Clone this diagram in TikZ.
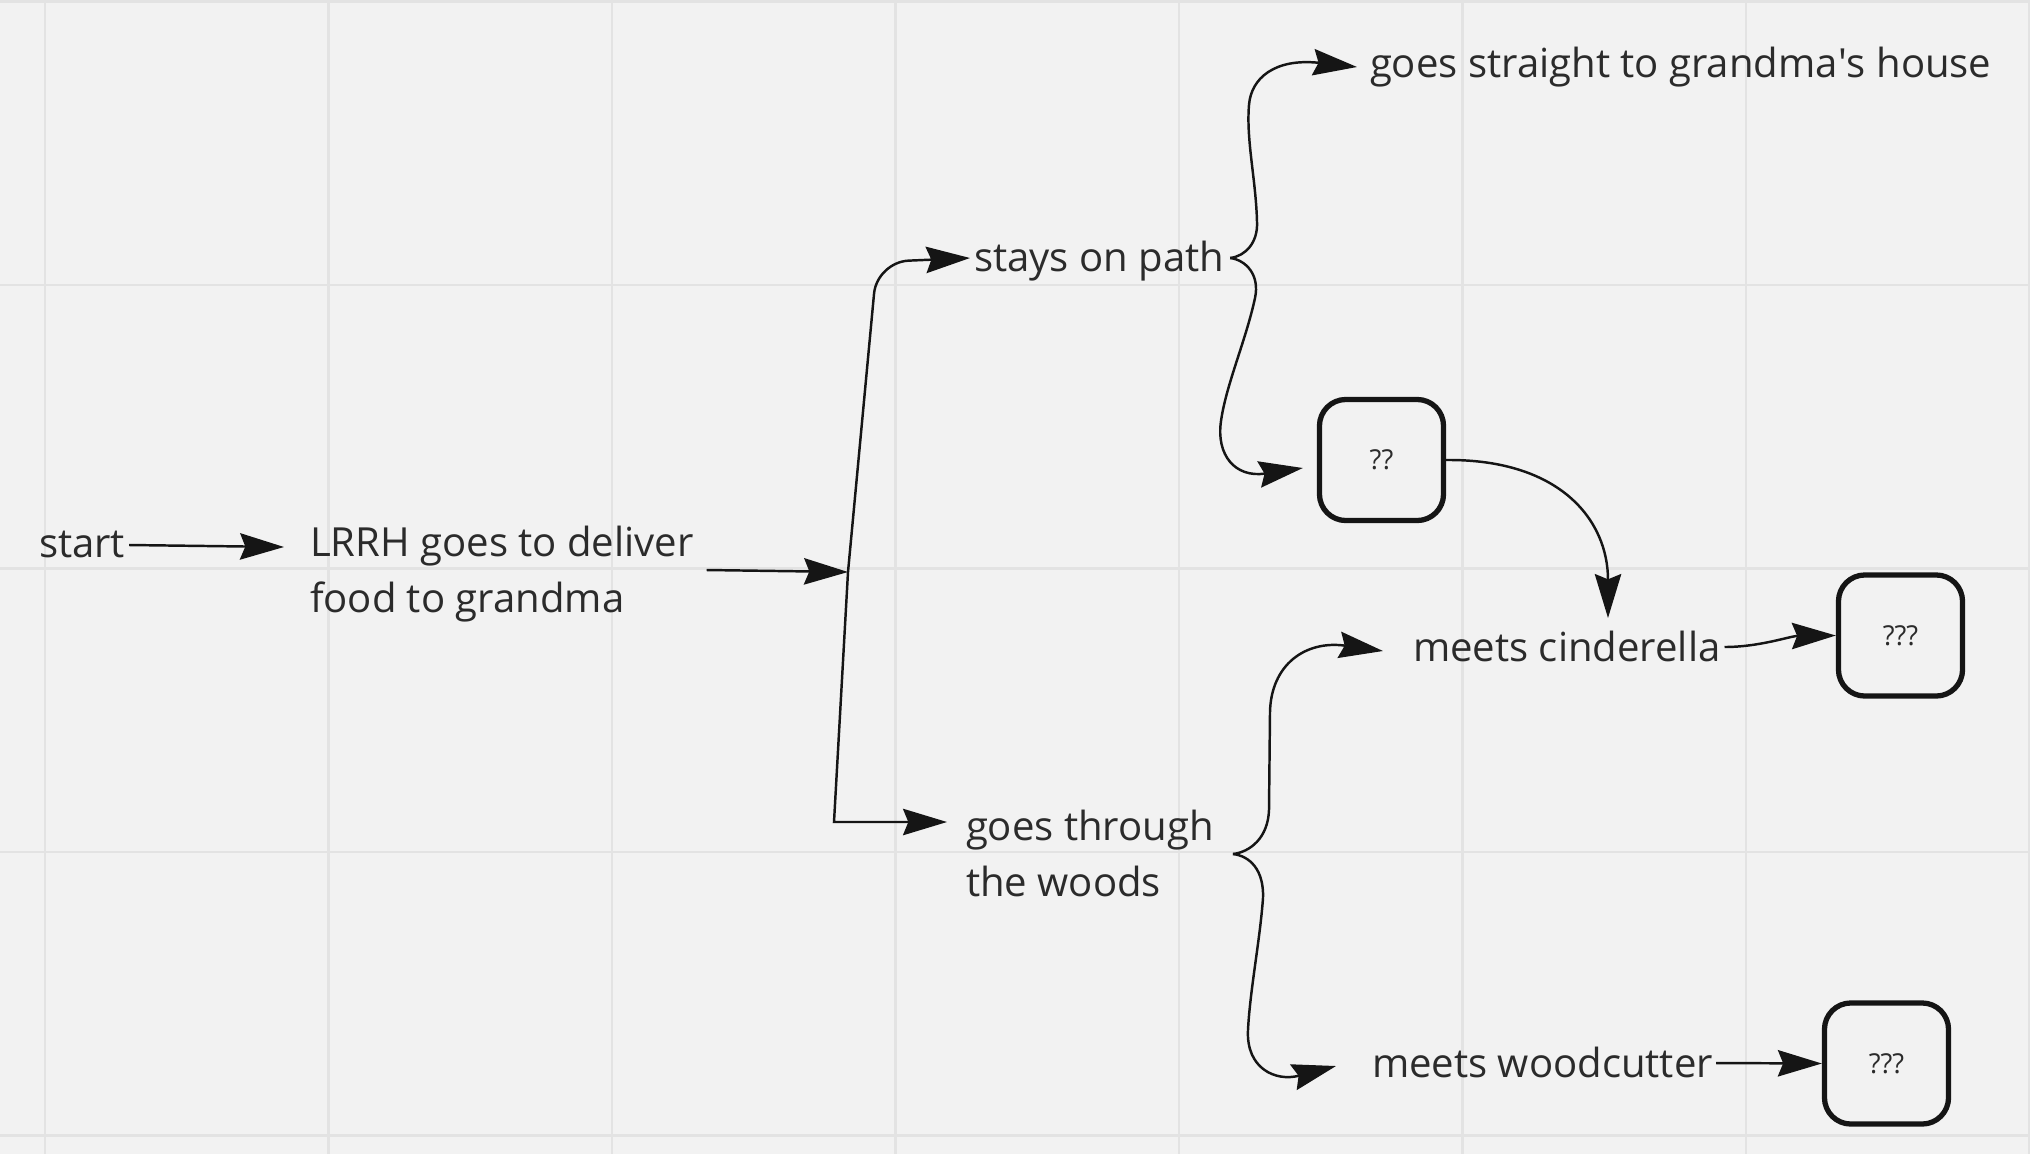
\documentclass[tikz,border=0pt]{standalone}
\usepackage{fontspec}
\setmainfont{Open Sans}
\usetikzlibrary{arrows.meta,calc}
\definecolor{bg}{HTML}{F2F2F2}
\definecolor{gridc}{HTML}{E3E3E3}
\definecolor{ink}{HTML}{2B2B2B}
\definecolor{wire}{HTML}{151515}
\begin{document}
\begin{tikzpicture}[x=0.01cm,y=-0.01cm,
  lbl/.style={inner sep=0pt, outer sep=0pt, anchor=base west, text=ink, font=\fontsize{11.4}{15.7}\selectfont},
  qbox/.style={draw=wire, line width=1.5pt, rounded corners=7.5pt, minimum width=1.24cm, minimum height=1.21cm, inner sep=0pt, text=ink, font=\fontsize{7.8}{9}\selectfont},
  arr/.style={draw=wire, line width=0.7pt, -{Stealth[length=12.5pt,width=7.5pt,inset=1.5pt]}},
  gridline/.style={draw=gridc, line width=0.6pt}
]
\fill[bg] (0,0) rectangle (2030,1154);
\useasboundingbox (0,0) rectangle (2030,1154);
\foreach \gx in {45,328.5,612,895.5,1179,1462.5,1746,2029.5} \draw[gridline] (\gx,0) -- (\gx,1154);
\foreach \gy in {1.5,285,568.5,852,1135.5} \draw[gridline] (0,\gy) -- (2030,\gy);

\node[lbl] (start) at (39,557) {start};
\node[lbl, align=left] (lrrh) at (310,612) {LRRH goes to deliver\\food to grandma};
\node[lbl] (stays) at (974,271) {stays on path};
\node[lbl] (straight) at (1370,77) {goes straight to grandma\textquotesingle s house};
\node[lbl, align=left] (woods) at (966,896) {goes through\\the woods};
\node[lbl] (cind) at (1413,661) {meets cinderella};
\node[lbl] (wood) at (1372,1077) {meets woodcutter};
\node[qbox] (b1) at (1381.5,460) {??};
\node[qbox] (b2) at (1900.5,635.5) {???};
\node[qbox] (b3) at (1886.5,1063.5) {???};

\coordinate (J) at (848,572);
\coordinate (Jb) at (834,822);

\draw[arr] ($(start.base east)+(4,-12)$) -- ($(lrrh.base west)+(-26,-65)$);
\draw[arr] ($(lrrh.base east)+(13,-42)$) -- (J);
\draw[arr, rounded corners=9pt] (J) -- (877,262) -- ($(stays.base west)+(-4,-13)$);
\draw[arr] (J) -- (Jb) -- ($(woods.base west)+(-19,-74)$);

\draw[arr] ($(stays.base east)+(6,-13)$) .. controls (1246,256) and (1258,242) .. (1257,222) .. controls (1256,180) and (1246,140) .. (1249,105) .. controls (1251,78) and (1275,58) .. ($(straight.base west)+(-13,-10)$);
\draw[arr] ($(stays.base east)+(6,-13)$) .. controls (1246,260) and (1260,275) .. (1255,298) .. controls (1246,340) and (1226,385) .. (1221,421) .. controls (1216,455) and (1235,478) .. ($(b1.west)+(-14,8)$);

\draw[arr] (b1.east) .. controls (1560,459) and (1608,520) .. ($(cind.base west)+(195,-43)$);
\draw[arr] ($(cind.base east)+(4,-14)$) .. controls (1760,647) and (1790,636) .. (b2.west);

\draw[arr] ($(woods.base east)+(19,-42)$) .. controls (1250,852) and (1268,838) .. (1269,810) -- (1270,712) .. controls (1271,665) and (1305,640) .. ($(cind.base west)+(-30,-10)$);
\draw[arr] ($(woods.base east)+(19,-42)$) .. controls (1250,856) and (1264,870) .. (1263,898) .. controls (1260,940) and (1250,990) .. (1248,1030) .. controls (1246,1068) and (1275,1082) .. ($(wood.base west)+(-36,-11)$);
\draw[arr] ($(wood.base east)+(3,-14)$) -- (b3.west);
\end{tikzpicture}
\end{document}
